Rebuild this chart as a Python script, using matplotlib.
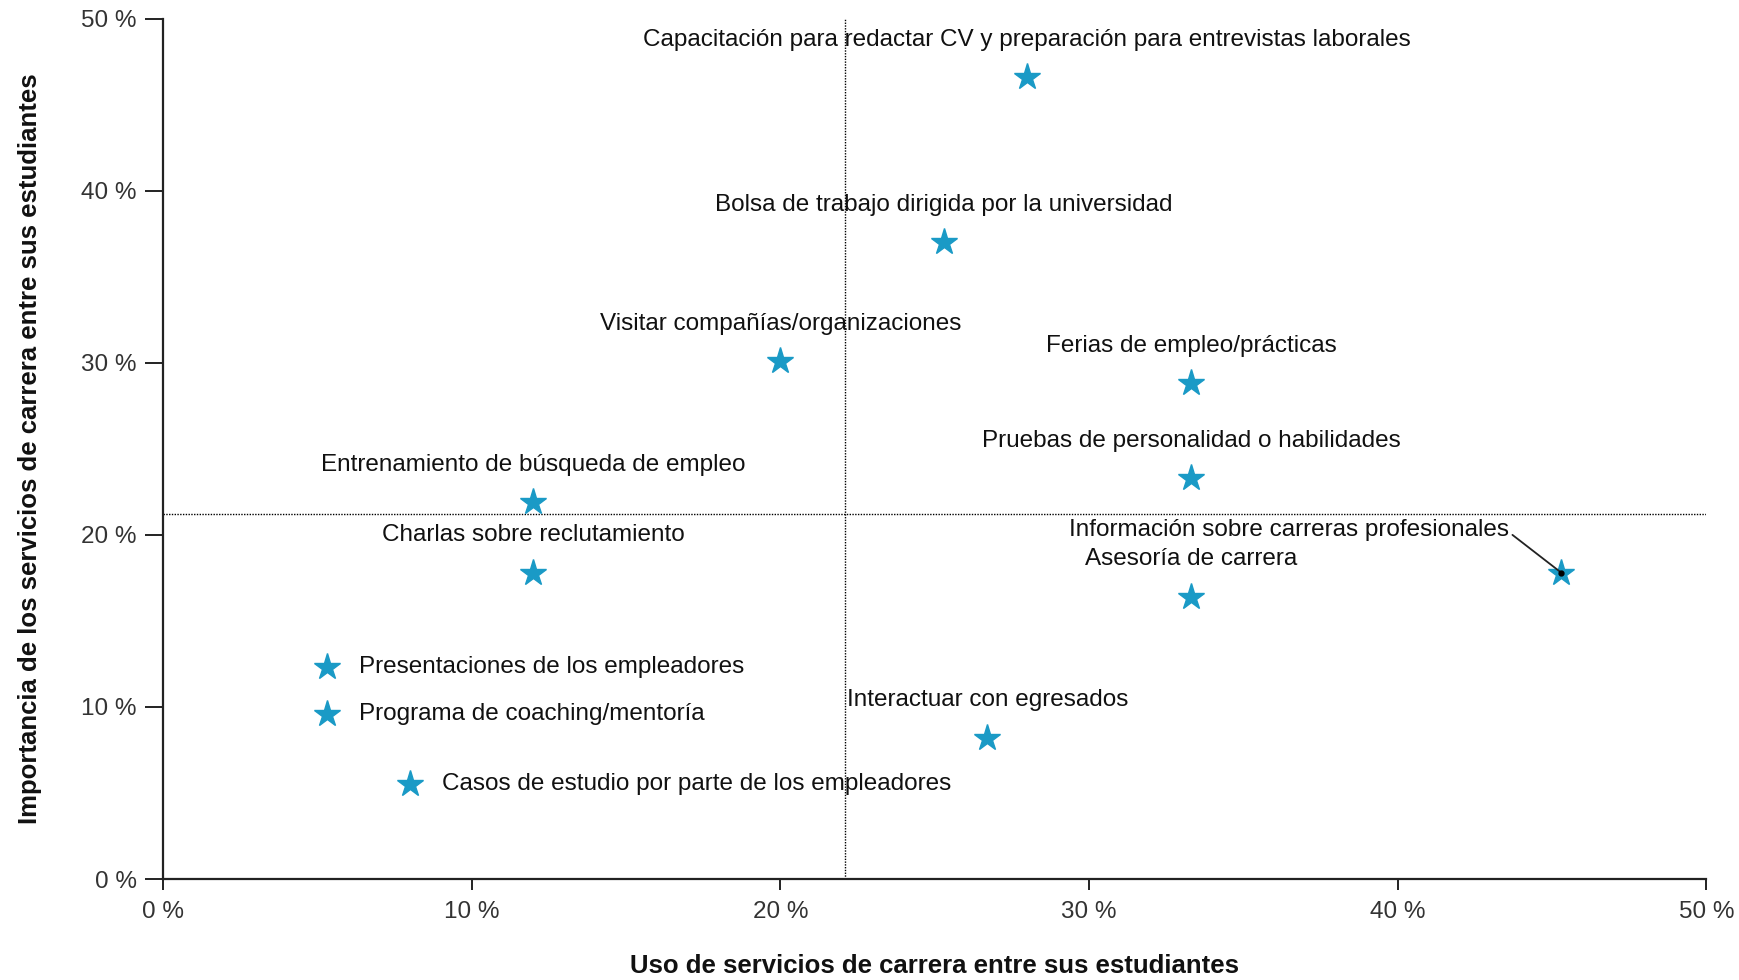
import numpy as np
import matplotlib
matplotlib.use('Agg')
import matplotlib.pyplot as plt

plt.rcParams['font.family'] = ['Liberation Sans', 'DejaVu Sans']

# Uso (x) e importancia (y) de cada servicio, en %
servicios = ['Capacitación para redactar CV y preparación para entrevistas laborales',
             'Bolsa de trabajo dirigida por la universidad',
             'Visitar compañías/organizaciones',
             'Ferias de empleo/prácticas',
             'Pruebas de personalidad o habilidades',
             'Entrenamiento de búsqueda de empleo',
             'Charlas sobre reclutamiento',
             'Información sobre carreras profesionales',
             'Asesoría de carrera',
             'Interactuar con egresados',
             'Presentaciones de los empleadores',
             'Programa de coaching/mentoría',
             'Casos de estudio por parte de los empleadores']
uso = [28.0, 25.3, 20.0, 33.3, 33.3, 12.0, 12.0, 45.3, 33.3, 26.7, 5.3, 5.3, 8.0]
importancia = [46.6, 37.0, 30.1, 28.8, 23.3, 21.9, 17.8, 17.8, 16.4, 8.2, 12.3, 9.6, 5.5]

# promedios (lineas de referencia)
uso_medio = 22.1
imp_media = 21.2

# posicion de cada etiqueta: 'top' = encima, 'right' = a la derecha, 'leader' = con linea
ubicacion = ['top', 'top', 'top', 'top', 'top', 'top', 'top', 'leader', 'top', 'top',
             'right', 'right', 'right']

azul = '#1a9ac6'
fs = 17.5

fig = plt.figure(figsize=(17.4, 9.8), dpi=100)
ax = fig.add_axes([0.0937, 0.103, 0.887, 0.878])

ax.axvline(uso_medio, color='black', lw=1, ls=(0, (1, 1)), zorder=1)
ax.axhline(imp_media, color='black', lw=1, ls=(0, (1, 1)), zorder=1)

ax.plot(uso, importancia, ls='none', marker='*', ms=20, color=azul, mec=azul, zorder=3)

for nombre, x, y, pos in zip(servicios, uso, importancia, ubicacion):
    if pos == 'top':
        ax.annotate(nombre, (x, y), xytext=(0, 27), textcoords='offset points',
                    ha='center', va='center', fontsize=fs, color='#111111')
    elif pos == 'right':
        ax.annotate(nombre, (x, y), xytext=(23, 0), textcoords='offset points',
                    ha='left', va='center', fontsize=fs, color='#111111')
    else:
        ax.annotate(nombre, (x, y), xytext=(-38, 31), textcoords='offset points',
                    ha='right', va='center', fontsize=fs, color='#111111',
                    arrowprops=dict(arrowstyle='-', color='#222222', lw=1.3,
                                    relpos=(1, 0.4), shrinkA=1, shrinkB=0))
        ax.plot(x, y, 'o', ms=3.5, color='black', zorder=4)

ax.set_xlim(0, 50)
ax.set_ylim(0, 50)
ticks = np.arange(0, 51, 10)
ax.set_xticks(ticks)
ax.set_yticks(ticks)
ax.set_xticklabels(['%d %%' % t for t in ticks])
ax.set_yticklabels(['%d %%' % t for t in ticks])

for s in ['top', 'right']:
    ax.spines[s].set_visible(False)
for s in ['left', 'bottom']:
    ax.spines[s].set_linewidth(1.6)
    ax.spines[s].set_color('#222222')

ax.tick_params(axis='y', length=13, width=1.4, pad=6, labelsize=fs, colors='#222222',
               labelcolor='#333333')
ax.tick_params(axis='x', length=8, width=1.4, pad=8, labelsize=fs, colors='#222222',
               labelcolor='#333333')

fig.text(0.537, 0.014, 'Uso de servicios de carrera entre sus estudiantes',
         ha='center', va='center', fontsize=18.5, fontweight='bold', color='#111111')
fig.text(0.017, 0.542, 'Importancia de los servicios de carrera entre sus estudiantes',
         ha='center', va='center', rotation=90, fontsize=18.5, fontweight='bold',
         color='#111111')

fig.savefig('out.png', dpi=100)
